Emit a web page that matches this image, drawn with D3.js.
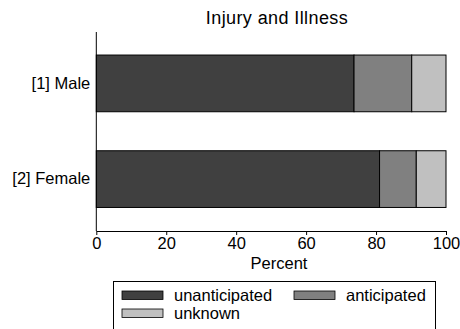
<!DOCTYPE html>
<html>
<head>
<meta charset="utf-8">
<script src="https://cdn.jsdelivr.net/npm/d3@7"></script>
<style>
body { margin: 0; background: #fff; }
text { font-family: "Liberation Sans", Arial, sans-serif; }
</style>
</head>
<body>
<svg width="460" height="329"></svg>
<script>
var groups = ["[1] Male", "[2] Female"];
var categories = ["unanticipated", "anticipated", "unknown"];
var unanticipated = [73.7, 81.0];
var anticipated = [16.5, 10.5];
var unknown = [9.8, 8.5];
var xTicks = [0, 20, 40, 60, 80, 100];
var colors = ["#404040", "#808080", "#c0c0c0"];

var svg = d3.select("svg");

var rows = groups.map(function(g, i) {
    return { group: g, unanticipated: unanticipated[i], anticipated: anticipated[i], unknown: unknown[i] };
});
var series = d3.stack().keys(categories)(rows);

var xs = d3.scaleLinear().domain([0, 100]).range([96.3, 446]);
var ys = d3.scaleBand().domain(groups).range([35.9, 226.6]).paddingInner(0.4075).paddingOuter(0.2);
var color = d3.scaleOrdinal().domain(categories).range(colors);

// bars
svg.append("g")
    .selectAll("g")
    .data(series)
    .enter()
    .append("g")
    .attr("fill", function(d) { return color(d.key); })
    .selectAll("rect")
    .data(function(d) { return d; })
    .enter()
    .append("rect")
    .attr("x", function(d) { return xs(d[0]); })
    .attr("y", function(d) { return ys(d.data.group); })
    .attr("width", function(d) { return xs(d[1]) - xs(d[0]); })
    .attr("height", ys.bandwidth())
    .attr("stroke", "#000")
    .attr("stroke-width", 1);

// y axis
var yAxis = svg.append("g")
    .attr("transform", "translate(" + xs(0) + ",0)")
    .call(d3.axisLeft(ys).tickSize(0).tickPadding(6));
yAxis.select(".domain").remove();
yAxis.append("line")
    .attr("x1", 0).attr("x2", 0)
    .attr("y1", 32).attr("y2", 231)
    .attr("stroke", "#000");
yAxis.selectAll("text")
    .attr("font-size", 16.5)
    .attr("fill", "#000")
    .style("font-family", "Liberation Sans, Arial, sans-serif");

// x axis
var xAxis = svg.append("g")
    .attr("transform", "translate(0,231)")
    .call(d3.axisBottom(xs).tickValues(xTicks).tickSize(4).tickSizeOuter(0).tickPadding(2));
xAxis.select(".domain").attr("stroke", "#000");
xAxis.selectAll("text")
    .attr("font-size", 16.5)
    .attr("fill", "#000")
    .style("font-family", "Liberation Sans, Arial, sans-serif");

svg.append("text")
    .attr("x", 279).attr("y", 269.3)
    .attr("text-anchor", "middle")
    .attr("font-size", 16.5)
    .text("Percent");

svg.append("text")
    .attr("x", 277).attr("y", 24)
    .attr("text-anchor", "middle")
    .attr("font-size", 18)
    .attr("letter-spacing", 0.4)
    .text("Injury and Illness");

// legend
var legend = svg.append("g");
legend.append("rect")
    .attr("x", 113.5).attr("y", 281.5)
    .attr("width", 322).attr("height", 50)
    .attr("fill", "none").attr("stroke", "#000");

var legendPos = [[122, 291], [294, 291], [122, 309]];
categories.forEach(function(c, i) {
    var p = legendPos[i];
    legend.append("rect")
        .attr("x", p[0]).attr("y", p[1])
        .attr("width", 41).attr("height", 8.5)
        .attr("fill", color(c))
        .attr("stroke", "#000").attr("stroke-width", 0.8);
    legend.append("text")
        .attr("x", p[0] + 52).attr("y", p[1] + 10)
        .attr("font-size", 16.5)
        .text(c);
});
</script>
</body>
</html>
